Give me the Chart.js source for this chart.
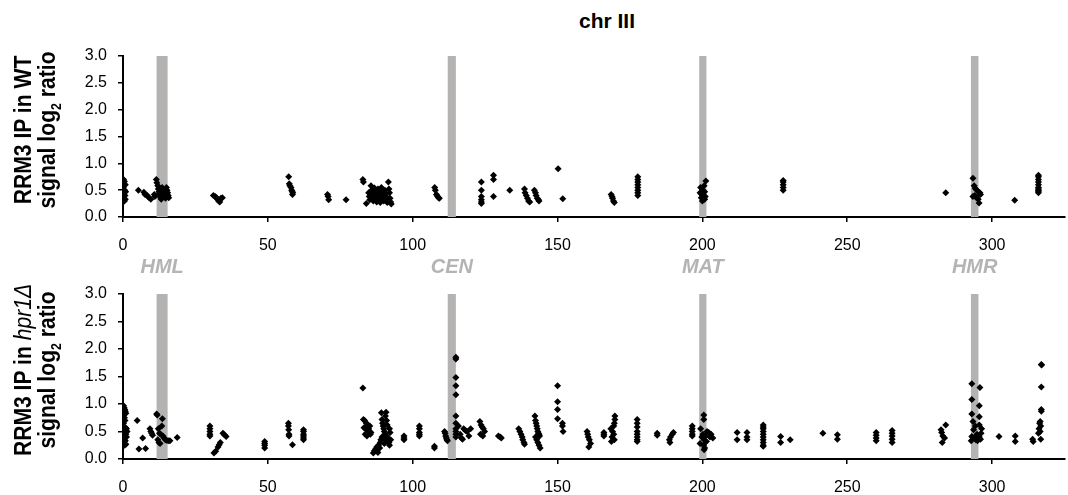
<!DOCTYPE html>
<html lang="en">
<head>
    <meta charset="UTF-8">
    <script src="https://cdn.jsdelivr.net/npm/chart.js"></script>
    <title>chr III</title>
    <style>
        body {
            margin: 0;
            background: #fff;
            font-family: "Liberation Sans", Arial, sans-serif;
        }
        #wrap {
            position: relative;
            width: 1068px;
            height: 495px;
        }
        canvas {
            position: absolute;
            left: 0;
        }
        #title {
            position: absolute;
            left: 607px;
            top: 21px;
            transform: translate(-50%, -50%);
            font-weight: bold;
            font-size: 21px;
            white-space: nowrap;
        }
        .ytitle {
            position: absolute;
            transform: translate(-50%, -50%) rotate(-90deg) scaleX(0.88);
            font-weight: bold;
            font-size: 24px;
            line-height: 24px;
            text-align: center;
            white-space: nowrap;
        }
        .ytitle sub {
            font-size: 14px;
            line-height: 0;
        }
        .ytitle i {
            font-weight: normal;
        }
    </style>
</head>
<body>
<div id="wrap">
    <div id="title">chr III</div>
    <canvas id="wt" width="1068" height="250" style="top:0"></canvas>
    <canvas id="hpr" width="1068" height="245" style="top:250px"></canvas>
    <div class="ytitle" style="left:35px;top:130px">RRM3 IP in WT<br>signal log<sub>2</sub> ratio</div>
    <div class="ytitle" style="left:35px;top:370px">RRM3 IP in <i>hpr1Δ</i><br>signal log<sub>2</sub> ratio</div>
</div>

<script>
    // chromosome position (kb) and log2 ratio
    const wtPoints = [
        [0.2, 0.70], [0.5, 0.66], [0.3, 0.62], [0.8, 0.60], [0.1, 0.55], [0.6, 0.50], [0.9, 0.47], [0.4, 0.45], [0.7, 0.40], [0.2, 0.36], [0.8, 0.33], [0.5, 0.30],
        [5.3, 0.50], [7.2, 0.46], [7.6, 0.42], [8.4, 0.40], [8.8, 0.37], [9.6, 0.33],
        [10.8, 0.42], [11.0, 0.38], [11.5, 0.70], [11.7, 0.64], [12.0, 0.58], [12.2, 0.52], [12.4, 0.47], [12.6, 0.44], [12.8, 0.40], [13.0, 0.36], [13.2, 0.33],
        [13.5, 0.55], [13.7, 0.50], [14.0, 0.45], [14.2, 0.42], [14.5, 0.38], [14.7, 0.35], [15.0, 0.55], [15.2, 0.50], [15.4, 0.45], [15.6, 0.40], [15.8, 0.36],
        [31.2, 0.40], [31.8, 0.38], [32.3, 0.36], [32.6, 0.33], [33.0, 0.30], [33.4, 0.28], [33.8, 0.35], [34.3, 0.36],
        [57.2, 0.75], [57.4, 0.62], [57.6, 0.58], [58.0, 0.55], [58.2, 0.50], [58.4, 0.48], [58.6, 0.45], [58.5, 0.42],
        [70.6, 0.42], [70.8, 0.38], [71.0, 0.32], [77.0, 0.32],
        [82.8, 0.70], [83.0, 0.65], [84.0, 0.25],
        [84.8, 0.45], [85.0, 0.38], [85.2, 0.32], [85.6, 0.58], [85.8, 0.50], [86.0, 0.42], [86.2, 0.36], [86.4, 0.30], [86.8, 0.54], [87.0, 0.47], [87.2, 0.40],
        [87.4, 0.34], [87.6, 0.28], [88.0, 0.52], [88.2, 0.45], [88.4, 0.38], [88.6, 0.32], [88.8, 0.27], [89.2, 0.55], [89.4, 0.48], [89.6, 0.42], [89.8, 0.36],
        [90.0, 0.30], [90.4, 0.50], [90.6, 0.44], [90.8, 0.38], [91.0, 0.33], [91.2, 0.27], [91.6, 0.65], [91.8, 0.52], [92.0, 0.45], [92.2, 0.35], [92.4, 0.28], [92.6, 0.24],
        [107.6, 0.55], [107.8, 0.50], [108.2, 0.42], [108.6, 0.38], [108.9, 0.36], [109.2, 0.35],
        [123.7, 0.65], [123.7, 0.50], [123.7, 0.38], [123.7, 0.32], [123.7, 0.28], [123.7, 0.25],
        [127.9, 0.78], [127.9, 0.70], [127.9, 0.38], [133.5, 0.50],
        [138.6, 0.52], [138.8, 0.45], [139.2, 0.40], [139.6, 0.35], [140.0, 0.30], [140.4, 0.28],
        [142.0, 0.50], [142.4, 0.45], [142.6, 0.40], [143.0, 0.35], [143.4, 0.32], [143.6, 0.30],
        [150.2, 0.90], [151.8, 0.34],
        [168.5, 0.42], [168.8, 0.38], [169.0, 0.35], [169.3, 0.30], [169.6, 0.27],
        [177.7, 0.75], [177.7, 0.70], [177.7, 0.65], [177.7, 0.60], [177.7, 0.55], [177.7, 0.50], [177.7, 0.45], [177.7, 0.40],
        [201.2, 0.67], [200.6, 0.58], [199.4, 0.55], [200.0, 0.50], [200.8, 0.47], [199.2, 0.45], [199.8, 0.42], [200.4, 0.40], [201.0, 0.38], [199.6, 0.36],
        [200.2, 0.35], [200.8, 0.33], [200.0, 0.30],
        [227.9, 0.68], [227.9, 0.65], [227.9, 0.60], [227.9, 0.55], [227.9, 0.50],
        [284.0, 0.45],
        [293.4, 0.72], [293.8, 0.58], [294.2, 0.53], [294.8, 0.50], [295.4, 0.46], [296.0, 0.42], [293.4, 0.38], [294.0, 0.40], [294.6, 0.36], [295.2, 0.33],
        [295.8, 0.45], [295.5, 0.26],
        [307.8, 0.31],
        [316.0, 0.78], [316.0, 0.75], [316.0, 0.70], [316.0, 0.65], [316.0, 0.60], [316.0, 0.55], [316.0, 0.52], [316.0, 0.50], [316.0, 0.48], [316.0, 0.45]
    ];

    const hprPoints = [
        [0.2, 0.97], [0.4, 0.93], [0.6, 0.90], [0.8, 0.87], [1.0, 0.83], [0.3, 0.80], [0.5, 0.75], [0.7, 0.70], [0.2, 0.65], [0.9, 0.57], [1.2, 0.55],
        [0.4, 0.52], [1.4, 0.50], [0.6, 0.48], [1.0, 0.45], [0.3, 0.42], [1.2, 0.40], [0.5, 0.37], [0.8, 0.33], [0.2, 0.30], [1.0, 0.27], [0.6, 0.25],
        [4.9, 0.70], [5.5, 0.18], [6.8, 0.38], [7.8, 0.19],
        [9.3, 0.55], [9.6, 0.50], [9.9, 0.47], [10.2, 0.43],
        [11.6, 0.82], [11.8, 0.80], [13.6, 0.73], [13.4, 0.60], [12.2, 0.55], [12.6, 0.47], [13.0, 0.45], [13.8, 0.42], [14.2, 0.38], [12.0, 0.35],
        [12.4, 0.30], [12.8, 0.28], [14.6, 0.35], [15.0, 0.34], [15.6, 0.33], [16.2, 0.33],
        [18.7, 0.39],
        [30.0, 0.60], [30.0, 0.55], [30.0, 0.50], [30.0, 0.45], [30.0, 0.42],
        [31.4, 0.11], [32.0, 0.14], [32.8, 0.22], [33.2, 0.26], [33.6, 0.30], [34.5, 0.47], [35.0, 0.44], [35.6, 0.41],
        [48.9, 0.32], [48.9, 0.28], [48.9, 0.25], [48.9, 0.20],
        [57.1, 0.65], [57.1, 0.60], [57.2, 0.53], [57.3, 0.45], [57.3, 0.42], [58.5, 0.26],
        [62.3, 0.53], [62.3, 0.50], [62.3, 0.45], [62.3, 0.42], [62.3, 0.38], [62.3, 0.35],
        [82.8, 1.29],
        [83.0, 0.72], [83.4, 0.70], [84.0, 0.65], [84.6, 0.62], [85.2, 0.60], [83.2, 0.57], [83.8, 0.55], [84.4, 0.52], [85.0, 0.50], [85.6, 0.48],
        [83.6, 0.45], [84.2, 0.42], [84.8, 0.55], [85.4, 0.45],
        [86.4, 0.11], [86.8, 0.15], [87.2, 0.18], [87.6, 0.22], [88.0, 0.12], [88.2, 0.25], [88.6, 0.20], [88.8, 0.30], [89.2, 0.84], [89.4, 0.72],
        [89.6, 0.65], [89.0, 0.35], [89.8, 0.60], [90.0, 0.55], [90.2, 0.50], [89.4, 0.40], [90.4, 0.45], [90.6, 0.78], [90.8, 0.85], [91.0, 0.70],
        [91.2, 0.62], [91.0, 0.42], [91.4, 0.38], [91.6, 0.33], [91.8, 0.30], [90.2, 0.28], [92.0, 0.55], [92.2, 0.48], [92.4, 0.35], [92.0, 0.25], [90.6, 0.35],
        [97.0, 0.42], [97.0, 0.38], [97.0, 0.35],
        [102.3, 0.60], [102.3, 0.55], [102.3, 0.48], [102.3, 0.45], [102.3, 0.42],
        [107.5, 0.23], [107.5, 0.20],
        [111.0, 0.50], [111.2, 0.47], [111.4, 0.42], [111.6, 0.38], [111.8, 0.35], [112.0, 0.33],
        [114.9, 1.85], [114.9, 1.82], [114.9, 1.48], [114.9, 1.33], [114.9, 1.17], [114.9, 0.78], [114.9, 0.65], [114.9, 0.55], [114.9, 0.50], [114.9, 0.45], [114.9, 0.40],
        [115.8, 0.60], [116.4, 0.45], [116.8, 0.38], [117.2, 0.36], [117.6, 0.55], [118.2, 0.52], [118.8, 0.50], [119.4, 0.42], [120.0, 0.55],
        [123.2, 0.68], [123.6, 0.62], [124.0, 0.58], [124.4, 0.55], [124.8, 0.50], [123.4, 0.45], [124.2, 0.42],
        [129.6, 0.42], [130.2, 0.40], [130.6, 0.38],
        [136.6, 0.55], [137.0, 0.50], [137.4, 0.45], [137.8, 0.40], [138.0, 0.35], [138.4, 0.30], [138.6, 0.27],
        [142.2, 0.78], [142.4, 0.70], [142.6, 0.65], [142.8, 0.60], [143.0, 0.55], [143.2, 0.50], [143.4, 0.47], [143.6, 0.45], [143.8, 0.42], [142.4, 0.40],
        [142.8, 0.35], [143.2, 0.30], [143.6, 0.25], [144.0, 0.20],
        [150.0, 1.33], [150.0, 1.04], [150.0, 0.90], [150.0, 0.73], [151.7, 0.65], [151.7, 0.60], [151.9, 0.50],
        [160.2, 0.50], [160.4, 0.45], [160.6, 0.40], [161.0, 0.35], [161.4, 0.28], [160.8, 0.22],
        [166.0, 0.48], [166.0, 0.45], [166.0, 0.42],
        [169.8, 0.78], [169.8, 0.72], [169.6, 0.65], [169.4, 0.60], [168.4, 0.55], [169.0, 0.50], [169.4, 0.45], [168.8, 0.40], [169.6, 0.35], [168.6, 0.32],
        [177.5, 0.72], [177.5, 0.65], [177.5, 0.58], [177.5, 0.50], [177.5, 0.45], [177.5, 0.40], [177.5, 0.35], [177.5, 0.32],
        [184.4, 0.47], [184.4, 0.43],
        [190.0, 0.48], [189.6, 0.45], [189.0, 0.40], [188.6, 0.35], [188.8, 0.30],
        [196.5, 0.60], [196.5, 0.55], [196.5, 0.50], [196.5, 0.45], [196.5, 0.42],
        [200.5, 0.80], [200.5, 0.72], [199.4, 0.55], [201.6, 0.50], [202.2, 0.48], [200.2, 0.45], [203.0, 0.45], [201.0, 0.42], [199.8, 0.40], [202.6, 0.40],
        [203.6, 0.38], [200.6, 0.35], [201.4, 0.32], [199.2, 0.28], [200.4, 0.25], [200.8, 0.20], [200.6, 0.17],
        [212.0, 0.48], [212.0, 0.35],
        [215.4, 0.48], [215.4, 0.40], [215.4, 0.35],
        [221.0, 0.62], [221.0, 0.58], [221.0, 0.55], [221.0, 0.50], [221.0, 0.45], [221.0, 0.40], [221.0, 0.35], [221.0, 0.30], [221.0, 0.25], [221.0, 0.23],
        [227.0, 0.41], [227.0, 0.30], [230.3, 0.35],
        [241.6, 0.47], [246.6, 0.44], [246.6, 0.36],
        [260.0, 0.48], [260.0, 0.43], [260.0, 0.38], [260.0, 0.33],
        [265.5, 0.52], [265.5, 0.47], [265.5, 0.42], [265.5, 0.36], [265.5, 0.30],
        [284.0, 0.62], [282.4, 0.53], [282.6, 0.48], [283.0, 0.42], [283.6, 0.38], [282.8, 0.30],
        [293.0, 1.37], [295.8, 1.30], [293.0, 1.08], [295.6, 0.97], [293.0, 0.82], [295.6, 0.77], [293.4, 0.68], [295.6, 0.62], [293.6, 0.53], [296.2, 0.47],
        [293.0, 0.41], [293.8, 0.38], [294.4, 0.35], [295.0, 0.33], [295.6, 0.40], [296.0, 0.36], [292.8, 0.33], [294.8, 0.45], [296.4, 0.55], [294.2, 0.60],
        [302.4, 0.41], [308.0, 0.42], [308.0, 0.32], [314.0, 0.36], [314.2, 0.32],
        [317.0, 1.72], [317.1, 1.71], [317.0, 1.31], [317.0, 0.90], [317.0, 0.87], [316.6, 0.68], [316.4, 0.65], [316.8, 0.60], [316.2, 0.55], [316.6, 0.50],
        [316.0, 0.47], [316.8, 0.36]
    ];

    // marked loci (kb)
    const regionNames = ['HML', 'CEN', 'MAT', 'HMR'];
    const regionStart = [11.6, 112.1, 198.9, 292.7];
    const regionEnd = [15.4, 114.9, 201.4, 295.3];

    const xMax = 325;
    const xStep = 50;
    const yMax = 3;
    const yStep = 0.5;

    Chart.defaults.font.family = '"Liberation Sans", Arial, sans-serif';
    Chart.defaults.color = '#000';

    // grey bands behind the points
    const bandPlugin = {
        id: 'bands',
        beforeDatasetsDraw(chart) {
            const { ctx, chartArea, scales } = chart;
            ctx.save();
            ctx.fillStyle = '#b5b2b2';
            for (let i = 0; i < regionNames.length; i++) {
                const x1 = scales.x.getPixelForValue(regionStart[i]);
                const x2 = scales.x.getPixelForValue(regionEnd[i]);
                ctx.fillRect(x1, chartArea.top, x2 - x1, chartArea.bottom - chartArea.top);
            }
            ctx.restore();
        }
    };

    // locus names above the lower panel
    const regionLabels = {
        id: 'regionLabels',
        afterDraw(chart) {
            const { ctx, chartArea, scales } = chart;
            ctx.save();
            ctx.font = 'italic bold 20px "Liberation Sans", Arial, sans-serif';
            ctx.fillStyle = '#b4b4b4';
            ctx.textAlign = 'center';
            ctx.textBaseline = 'middle';
            for (let i = 0; i < regionNames.length; i++) {
                const mid = (regionStart[i] + regionEnd[i]) / 2;
                ctx.fillText(regionNames[i], scales.x.getPixelForValue(mid), chartArea.top - 27);
            }
            ctx.restore();
        }
    };

    function makeChart(id, points, topPad, xAxisHeight, extraPlugins) {
        return new Chart(document.getElementById(id), {
            type: 'scatter',
            data: {
                datasets: [{
                    data: points.map(p => ({ x: p[0], y: p[1] })),
                    pointStyle: 'rectRot',
                    pointRadius: 3.5,
                    pointHoverRadius: 3.5,
                    backgroundColor: '#000',
                    borderWidth: 0
                }]
            },
            options: {
                responsive: false,
                animation: false,
                layout: { padding: { top: topPad, right: 2, left: 0, bottom: 0 } },
                plugins: { legend: { display: false }, tooltip: { enabled: false } },
                scales: {
                    x: {
                        type: 'linear',
                        min: 0,
                        max: xMax,
                        ticks: { stepSize: xStep, includeBounds: false, font: { size: 16 }, padding: 14, maxRotation: 0 },
                        grid: { drawOnChartArea: false, drawTicks: true, tickLength: 5, color: '#000', lineWidth: 1.5 },
                        border: { color: '#000', width: 2 },
                        afterFit(scale) { scale.height = xAxisHeight; }
                    },
                    y: {
                        min: 0,
                        max: yMax,
                        ticks: { stepSize: yStep, font: { size: 16 }, padding: 11, callback: v => v.toFixed(1) },
                        grid: { drawOnChartArea: false, drawTicks: true, tickLength: 5, color: '#000', lineWidth: 1.5 },
                        border: { color: '#000', width: 2 },
                        afterFit(scale) { scale.width = 123; }
                    }
                }
            },
            plugins: [bandPlugin].concat(extraPlugins)
        });
    }

    makeChart('wt', wtPoints, 56, 33, []);
    makeChart('hpr', hprPoints, 44, 36, [regionLabels]);
</script>
</body>
</html>
